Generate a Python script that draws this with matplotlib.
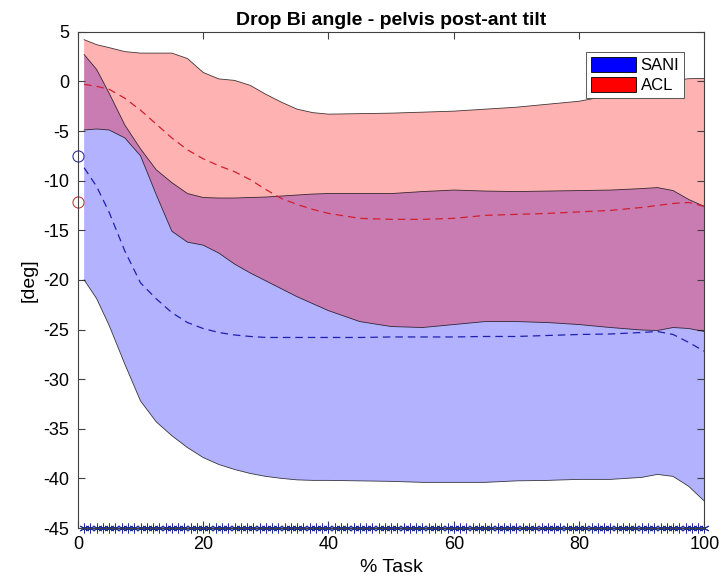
import numpy as np
import matplotlib
matplotlib.use('Agg')
import matplotlib.pyplot as plt
from matplotlib.patches import Patch

plt.rcParams['font.family'] = ['Liberation Sans', 'DejaVu Sans']
plt.rcParams['axes.unicode_minus'] = False

# % task positions where the curves were read
task = [1, 3, 5, 7.5, 10, 12.5, 15, 17.5, 20, 22.5, 25, 27.5, 30, 32.5, 35, 37.5,
        40, 45, 50, 55, 60, 65, 70, 75, 80, 85, 90, 92.5, 95, 97.5, 100]

# SANI (blue) band and mean
sani_hi = [2.7, 1.2, -1.2, -4.4, -6.8, -8.9, -10.2, -11.3, -11.7, -11.75, -11.75, -11.7,
           -11.65, -11.55, -11.45, -11.35, -11.3, -11.3, -11.3, -11.1, -10.95, -11.05, -11.1,
           -11.05, -11.0, -10.95, -10.8, -10.7, -11.0, -11.9, -12.6]
sani_mu = [-8.7, -10.6, -13.2, -17.1, -20.3, -21.9, -23.3, -24.3, -24.9, -25.3, -25.55,
           -25.7, -25.8, -25.8, -25.8, -25.8, -25.8, -25.8, -25.75, -25.75, -25.75, -25.7,
           -25.7, -25.6, -25.5, -25.45, -25.3, -25.2, -25.5, -26.3, -27.2]
sani_lo = [-20.0, -21.9, -24.6, -28.5, -32.2, -34.3, -35.7, -36.9, -37.9, -38.6, -39.1,
           -39.5, -39.8, -40.0, -40.15, -40.2, -40.2, -40.25, -40.3, -40.4, -40.4, -40.4,
           -40.25, -40.2, -40.1, -40.1, -39.9, -39.6, -39.8, -40.8, -42.3]

# ACL (red) band and mean
acl_hi = [4.2, 3.7, 3.4, 3.0, 2.85, 2.85, 2.85, 2.3, 0.9, 0.25, 0.1, -0.4, -1.3, -2.1,
          -2.8, -3.15, -3.3, -3.25, -3.2, -3.1, -3.0, -2.8, -2.6, -2.3, -2.0, -1.4, -0.6,
          -0.2, 0.1, 0.27, 0.3]
acl_mu = [-0.3, -0.5, -0.8, -1.7, -2.9, -4.3, -5.7, -6.9, -7.8, -8.5, -9.1, -9.9, -10.9,
          -11.8, -12.4, -12.9, -13.3, -13.8, -13.9, -13.9, -13.8, -13.5, -13.4, -13.3,
          -13.15, -13.0, -12.7, -12.5, -12.3, -12.2, -12.6]
acl_lo = [-4.9, -4.8, -4.9, -5.7, -7.5, -11.4, -15.1, -16.2, -16.5, -17.3, -18.4, -19.3,
          -20.1, -20.9, -21.7, -22.4, -23.1, -24.2, -24.7, -24.8, -24.5, -24.2, -24.2,
          -24.3, -24.5, -24.8, -25.05, -25.1, -24.8, -24.9, -25.2]

# markers at x=0 and the significance row
start_sani = -7.5
start_acl = -12.2
sig_x = np.arange(1, 101)
sig_y = -45

fig = plt.figure(figsize=(7.21, 5.88), dpi=100)
ax = fig.add_axes([0.108, 0.102, 0.869, 0.844])

ax.fill_between(task, sani_lo, sani_hi, facecolor='b', alpha=0.3, edgecolor='none')
ax.plot(task, sani_hi, color='k', lw=0.6, alpha=0.75)
ax.plot(task, sani_lo, color='k', lw=0.6, alpha=0.75)
ax.fill_between(task, acl_lo, acl_hi, facecolor='r', alpha=0.3, edgecolor='none')
ax.plot(task, acl_hi, color='k', lw=0.6, alpha=0.75)
ax.plot(task, acl_lo, color='k', lw=0.6, alpha=0.75)

ax.plot(task, sani_mu, '--', color='#2020b0', lw=0.9, dashes=(6, 4))
ax.plot(task, acl_mu, '--', color='#d02030', lw=0.9, dashes=(6, 4))

ax.plot(0, start_sani, 'o', mfc='none', mec='#3030a0', ms=8, mew=0.8, clip_on=False)
ax.plot(0, start_acl, 'o', mfc='none', mec='#c04040', ms=8, mew=0.8, clip_on=False)
ax.plot(sig_x, np.full(len(sig_x), sig_y), marker=(6, 2, 0), ls='none', color='#1c2a9a',
        ms=7, mew=0.7, clip_on=False)

ax.set_xlim(0, 100)
ax.set_ylim(-45, 5)
ax.set_xticks([0, 20, 40, 60, 80, 100])
ax.set_yticks(np.arange(-45, 6, 5))
ax.tick_params(direction='in', top=True, right=True, labelsize=13, length=5,
               color='#404040', pad=6)
for s in ax.spines.values():
    s.set_color('#404040')
    s.set_linewidth(0.8)

ax.set_title('Drop Bi angle - pelvis post-ant tilt', fontsize=14, fontweight='bold', pad=5)
ax.set_xlabel('% Task', fontsize=14, labelpad=4)
ax.set_ylabel('[deg]', fontsize=14, labelpad=4)

handles = [Patch(facecolor='b', edgecolor='k', lw=0.6, label='SANI'),
           Patch(facecolor='r', edgecolor='k', lw=0.6, label='ACL')]
leg = ax.legend(handles=handles, loc='upper right', bbox_to_anchor=(0.968, 0.96),
                borderaxespad=0, fontsize=12, fancybox=False, framealpha=1,
                edgecolor='#404040', handlelength=2.7, handleheight=1.0,
                handletextpad=0.3, labelspacing=0.25, borderpad=0.3)
leg.get_frame().set_linewidth(0.6)

fig.savefig('out.png', dpi=100)
